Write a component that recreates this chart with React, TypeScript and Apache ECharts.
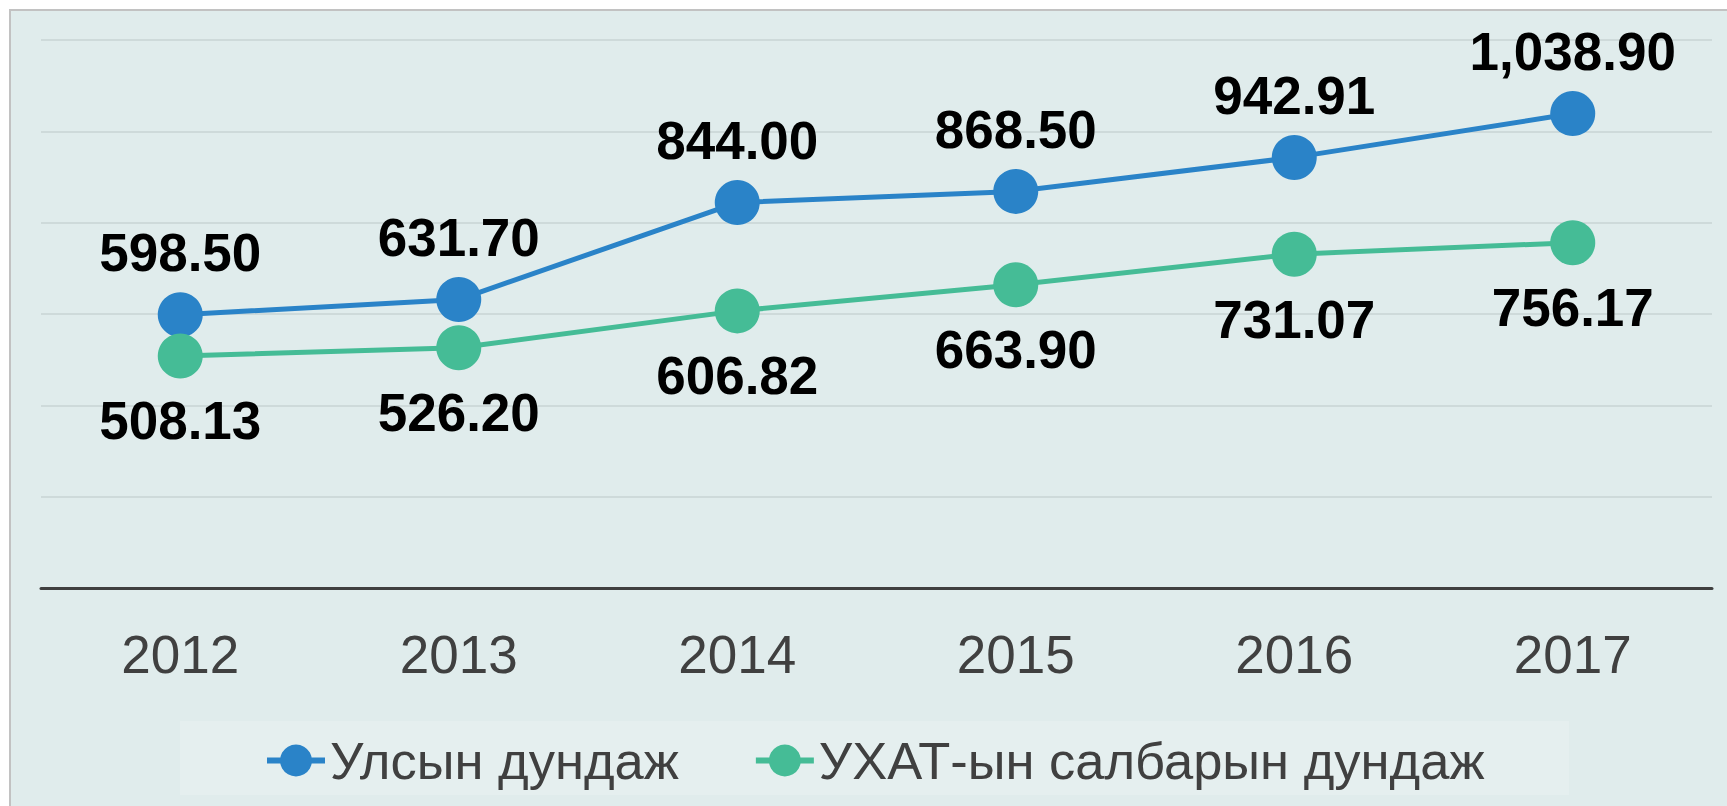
import React, { useEffect, useRef } from "react";
import * as echarts from "echarts";

const years = ["2012", "2013", "2014", "2015", "2016", "2017"];
const nationalAvg = [598.5, 631.7, 844.0, 868.5, 942.91, 1038.9];
const ictAvg = [508.13, 526.2, 606.82, 663.9, 731.07, 756.17];
const seriesNames = ["Улсын дундаж", "УХАТ-ын салбарын дундаж"];

const FONT = "'Liberation Sans', Arial, sans-serif";
const fmt = (v: number) =>
  v.toLocaleString("en-US", { minimumFractionDigits: 2, maximumFractionDigits: 2 });

export default function App() {
  const ref = useRef<HTMLDivElement>(null);
  useEffect(() => {
    if (!ref.current) return;
    const chart = echarts.init(ref.current, undefined, { renderer: "svg" });
    chart.setOption({
      animation: false,
      backgroundColor: "#ffffff",
      textStyle: { fontFamily: FONT },
      graphic: [
        {
          type: "rect",
          z: -10,
          silent: true,
          shape: { x: 10, y: 10, width: 1730, height: 810 },
          style: { fill: "#E0ECEC", stroke: "#C2C2C2", lineWidth: 2 },
        },
        {
          type: "rect",
          z: -9,
          silent: true,
          shape: { x: 180, y: 721, width: 1389, height: 74 },
          style: { fill: "#E5EFEF" },
        },
      ],
      grid: { left: 41, right: 15, top: 40, bottom: 218, containLabel: false },
      xAxis: {
        type: "category",
        data: years,
        boundaryGap: true,
        axisLine: { show: true, lineStyle: { color: "#404040", width: 3 } },
        axisTick: { show: false },
        axisLabel: { color: "#404040", fontSize: 53, margin: 40, fontFamily: FONT },
      },
      yAxis: {
        type: "value",
        min: 0,
        max: 1200,
        interval: 200,
        axisLabel: { show: false },
        axisLine: { show: false },
        axisTick: { show: false },
        splitLine: { show: true, lineStyle: { color: "#C9D5D5", width: 1.5 } },
      },
      legend: {
        left: 259,
        top: 729,
        itemWidth: 58,
        itemHeight: 40,
        itemGap: 74,
        lineStyle: { width: 6 },
        textStyle: { color: "#404040", fontSize: 52.5, fontFamily: FONT },
        data: seriesNames,
      },
      series: [
        {
          name: seriesNames[0],
          type: "line",
          data: nationalAvg,
          color: "#2A83C8",
          symbol: "circle",
          symbolSize: 45,
          lineStyle: { width: 5, color: "#2A83C8" },
          itemStyle: { color: "#2A83C8" },
          label: {
            show: true,
            position: "top",
            distance: 13,
            color: "#000000",
            fontWeight: "bold",
            fontSize: 53,
            fontFamily: FONT,
            formatter: (p: any) => fmt(p.value),
          },
        },
        {
          name: seriesNames[1],
          type: "line",
          data: ictAvg,
          color: "#45BC96",
          symbol: "circle",
          symbolSize: 45,
          lineStyle: { width: 5, color: "#45BC96" },
          itemStyle: { color: "#45BC96" },
          label: {
            show: true,
            position: "bottom",
            distance: 16,
            color: "#000000",
            fontWeight: "bold",
            fontSize: 53,
            fontFamily: FONT,
            formatter: (p: any) => fmt(p.value),
          },
        },
      ],
    });
    return () => chart.dispose();
  }, []);
  return (
    <div
      ref={ref}
      style={{ position: "fixed", left: 0, top: 0, width: 1727, height: 806 }}
    />
  );
}
